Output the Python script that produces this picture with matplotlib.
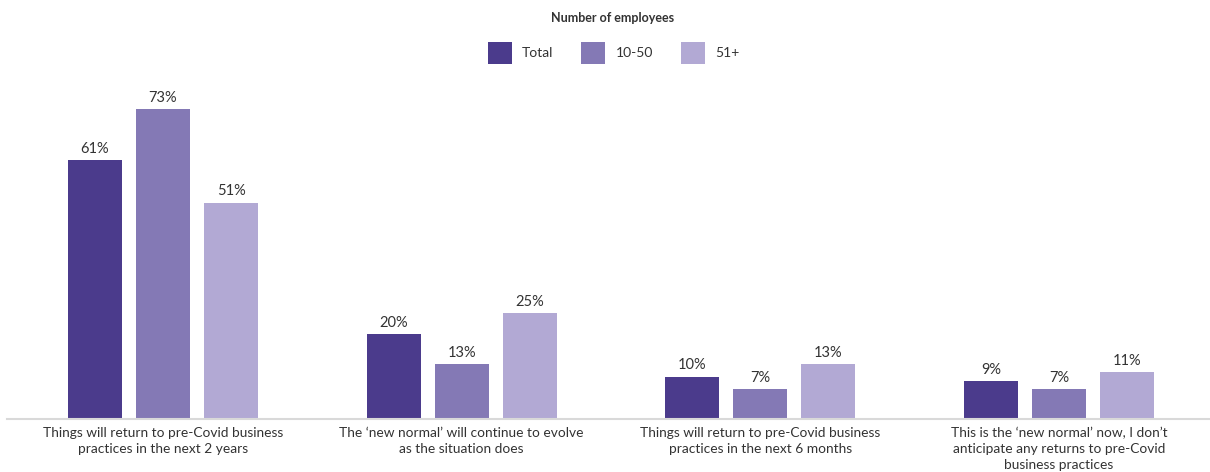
import numpy as np
import matplotlib.pyplot as plt
from matplotlib.patches import Patch

plt.rcParams['font.family'] = ['Lato', 'DejaVu Sans']

categories = [
    "Things will return to pre-Covid business\npractices in the next 2 years",
    "The \u2018new normal\u2019 will continue to evolve\nas the situation does",
    "Things will return to pre-Covid business\npractices in the next 6 months",
    "This is the \u2018new normal\u2019 now, I don\u2019t\nanticipate any returns to pre-Covid\nbusiness practices",
]
series_names = ["Total", "10-50", "51+"]
total = [61, 20, 10, 9]
small = [73, 13, 7, 7]
large = [51, 25, 13, 11]

colors = ["#4b3b8c", "#8479b5", "#b2a9d4"]
text_col = "#333333"

fig = plt.figure(figsize=(12.1, 4.72), dpi=100)
ax = fig.add_axes([0.0, 0.1123, 1.0, 0.697])

x = np.arange(len(categories))
w = 0.181
step = 0.2277
for i, (vals, name) in enumerate(zip([total, small, large], series_names)):
    bars = ax.bar(x + (i - 1) * step, vals, width=w, color=colors[i], label=name)
    ax.bar_label(bars, labels=[f"{v}%" for v in vals], padding=3,
                 fontsize=10.5, color=text_col)

ax.set_xlim(-0.5458, 3.5056)
ax.set_ylim(0, 77.5)
ax.set_xticks(x)
ax.set_xticklabels(categories, fontsize=9.9, color=text_col, linespacing=1.35)
ax.tick_params(axis='x', length=0, pad=6)
ax.set_yticks([])
for s in ["top", "right", "left"]:
    ax.spines[s].set_visible(False)
ax.spines["bottom"].set_color("#d9d9d9")
ax.spines["bottom"].set_linewidth(1.5)
ax.spines["bottom"].set_bounds(-0.522, 3.5056)

fig.text(0.506, 0.962, "Number of employees", ha="center", va="center",
         fontsize=9, fontweight="bold", color=text_col)

handles = [Patch(facecolor=c) for c in colors]
leg = fig.legend(handles, series_names, loc="center", bbox_to_anchor=(0.507, 0.888),
                 ncol=3, frameon=False, fontsize=10,
                 handlelength=1.75, handleheight=2.1, handletextpad=0.72,
                 columnspacing=2.0, borderaxespad=0.0)
for t in leg.get_texts():
    t.set_color(text_col)

fig.savefig("out.png", dpi=100)
